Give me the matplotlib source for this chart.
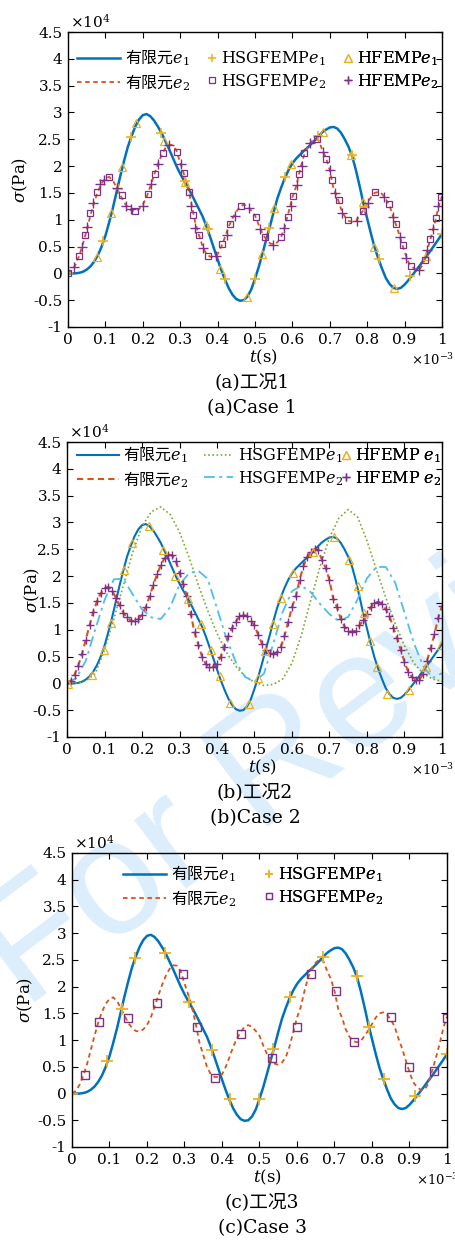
import numpy as np
import matplotlib
matplotlib.use("Agg")
import matplotlib.pyplot as plt
from matplotlib.lines import Line2D

plt.rcParams['font.family'] = ['DejaVu Serif', 'Noto Sans CJK SC']
plt.rcParams['mathtext.fontset'] = 'dejavuserif'

# colours (MATLAB default order)
C_BLUE = '#0072BD'
C_RED = '#D95319'
C_YEL = '#EDB120'
C_PUR = '#7E2F8E'
C_GRN = '#77AC30'
C_CYA = '#4DBEEE'

# ---- data: t in 1e-3 s, sigma in 1e4 Pa ----
t_fem = np.round(np.arange(0, 1.0001, 0.01), 2)
fem_e1 = [0.00, 0.00, 0.00, 0.01, 0.03, 0.07, 0.13, 0.22, 0.34, 0.50,
          0.70, 0.95, 1.22, 1.52, 1.82, 2.10, 2.36, 2.56, 2.74, 2.87,
          2.95, 2.97, 2.93, 2.85, 2.74, 2.62, 2.47, 2.32, 2.16, 2.00,
          1.86, 1.73, 1.61, 1.48, 1.34, 1.20, 1.06, 0.88, 0.68, 0.47,
          0.26, 0.06, -0.12, -0.28, -0.40, -0.48, -0.51, -0.50, -0.43, -0.30,
          -0.10, 0.12, 0.37, 0.63, 0.88, 1.15, 1.40, 1.60, 1.78, 1.93,
          2.05, 2.14, 2.21, 2.28, 2.34, 2.41, 2.48, 2.56, 2.63, 2.68,
          2.72, 2.73, 2.70, 2.62, 2.50, 2.36, 2.18, 1.92, 1.62, 1.30,
          1.02, 0.74, 0.48, 0.27, 0.08, -0.09, -0.20, -0.27, -0.29, -0.27,
          -0.21, -0.13, -0.04, 0.05, 0.14, 0.24, 0.33, 0.43, 0.53, 0.63,
          0.74]
fem_e2 = [0.00, 0.05, 0.16, 0.33, 0.55, 0.81, 1.08, 1.33, 1.53, 1.68,
          1.77, 1.80, 1.73, 1.60, 1.46, 1.32, 1.23, 1.17, 1.16, 1.20,
          1.28, 1.42, 1.62, 1.83, 2.03, 2.20, 2.33, 2.40, 2.39, 2.29,
          2.06, 1.85, 1.62, 1.30, 0.95, 0.72, 0.50, 0.36, 0.31, 0.31,
          0.36, 0.50, 0.68, 0.88, 1.03, 1.15, 1.25, 1.28, 1.25, 1.17,
          1.08, 0.90, 0.74, 0.63, 0.56, 0.54, 0.58, 0.68, 0.88, 1.15,
          1.42, 1.62, 1.92, 2.18, 2.35, 2.45, 2.51, 2.48, 2.30, 2.15,
          1.92, 1.58, 1.42, 1.20, 1.06, 0.98, 0.96, 0.98, 1.08, 1.18,
          1.30, 1.42, 1.50, 1.52, 1.48, 1.38, 1.26, 1.04, 0.85, 0.62,
          0.40, 0.21, 0.12, 0.07, 0.07, 0.18, 0.42, 0.66, 0.92, 1.22,
          1.44]

# HSGFEMP e1 points (cases 1 and 3)
hsg_e1_t = [0.0, 0.094, 0.133, 0.168, 0.249, 0.312, 0.374, 0.421, 0.499,
            0.537, 0.581, 0.669, 0.760, 0.793, 0.831, 0.915, 1.0]
hsg_e1 = [0.0, 0.61, 1.58, 2.54, 2.62, 1.72, 0.82, -0.11, -0.11,
          0.84, 1.80, 2.56, 2.20, 1.24, 0.27, -0.05, 0.74]

# case 1: HSGFEMP e2 squares
c1_hsg_e2_t = [0.0, 0.029, 0.045, 0.060, 0.077, 0.110, 0.144, 0.180, 0.213, 0.232,
               0.253, 0.292, 0.310, 0.324, 0.335, 0.351, 0.375, 0.412, 0.433, 0.462,
               0.503, 0.528, 0.569, 0.588, 0.602, 0.617, 0.632, 0.665, 0.691, 0.706,
               0.725, 0.748, 0.789, 0.821, 0.858, 0.877, 0.895, 0.916, 0.954, 0.969,
               0.983, 0.998]
c1_hsg_e2 = [0.0, 0.32, 0.71, 1.12, 1.51, 1.79, 1.46, 1.16, 1.48, 1.86,
             2.24, 2.27, 1.88, 1.51, 1.09, 0.71, 0.33, 0.54, 0.92, 1.26,
             1.06, 0.68, 0.67, 1.06, 1.45, 1.85, 2.24, 2.51, 2.14, 1.75,
             1.37, 1.00, 1.17, 1.51, 1.29, 0.92, 0.52, 0.14, 0.25, 0.64,
             1.03, 1.42]
# case 1: HFEMP e1 triangles
c1_hf_e1_t = [0.077, 0.116, 0.144, 0.182, 0.257, 0.313, 0.368, 0.407, 0.478, 0.520,
              0.551, 0.597, 0.682, 0.758, 0.789, 0.819, 0.871, 0.956]
c1_hf_e1 = [0.30, 1.12, 1.98, 2.80, 2.46, 1.70, 0.90, 0.09, -0.44, 0.37,
            1.21, 2.03, 2.64, 2.21, 1.33, 0.49, -0.27, 0.32]
# case 1: HFEMP e2 plus
c1_hf_e2_t = [0.017, 0.038, 0.052, 0.067, 0.086, 0.095, 0.130, 0.156, 0.168, 0.200,
              0.222, 0.241, 0.271, 0.302, 0.329, 0.339, 0.360, 0.396, 0.424, 0.447,
              0.485, 0.513, 0.549, 0.578, 0.595, 0.611, 0.625, 0.647, 0.681, 0.700,
              0.714, 0.733, 0.774, 0.802, 0.845, 0.869, 0.887, 0.903, 0.938, 0.961,
              0.976, 0.990]
c1_hf_e2 = [0.12, 0.50, 0.87, 1.31, 1.67, 1.75, 1.60, 1.26, 1.20, 1.26,
            1.66, 2.03, 2.40, 2.04, 1.25, 0.85, 0.47, 0.32, 0.72, 1.07,
            1.21, 0.82, 0.53, 0.85, 1.25, 1.65, 2.01, 2.43, 2.27, 1.92,
            1.50, 1.13, 0.98, 1.31, 1.42, 1.06, 0.67, 0.28, 0.06, 0.44,
            0.82, 1.25]

# case 2: HSGFEMP curves
c2_t = [0.0, 0.025, 0.05, 0.075, 0.1, 0.125, 0.15, 0.175, 0.2, 0.225,
        0.25, 0.275, 0.3, 0.325, 0.35, 0.375, 0.4, 0.425, 0.45, 0.475,
        0.5, 0.525, 0.55, 0.575, 0.6, 0.625, 0.65, 0.675, 0.7, 0.725,
        0.75, 0.775, 0.8, 0.825, 0.85, 0.875, 0.9, 0.925, 0.95, 0.975, 1.0]
c2_hsg_e1 = [0.00, 0.01, 0.04, 0.18, 0.62, 1.20, 1.82, 2.44, 2.93, 3.20,
             3.29, 3.15, 2.82, 2.36, 1.84, 1.36, 0.93, 0.58, 0.32, 0.13,
             0.02, -0.04, -0.02, 0.08, 0.38, 0.90, 1.55, 2.18, 2.72, 3.08,
             3.24, 3.10, 2.66, 2.12, 1.60, 1.12, 0.70, 0.38, 0.18, 0.08,
             0.04]
c2_hsg_e2 = [0.00, 0.10, 0.42, 1.00, 1.55, 1.94, 1.95, 1.66, 1.38, 1.23,
             1.20, 1.42, 1.84, 2.05, 2.10, 1.95, 1.40, 0.84, 0.40, 0.12,
             0.03, 0.18, 0.74, 1.33, 1.72, 1.82, 1.70, 1.48, 1.29, 1.16,
             1.24, 1.57, 1.96, 2.17, 2.17, 1.88, 1.32, 0.75, 0.32, 0.10,
             0.19]
# case 2: HFEMP e1 triangles
c2_hf_e1_t = [0.003, 0.067, 0.098, 0.118, 0.153, 0.173, 0.219, 0.256, 0.288, 0.322,
              0.358, 0.383, 0.407, 0.435, 0.485, 0.510, 0.529, 0.548, 0.571, 0.603,
              0.655, 0.713, 0.752, 0.775, 0.791, 0.808, 0.828, 0.853, 0.911, 0.958,
              0.998]
c2_hf_e1 = [-0.02, 0.15, 0.62, 1.12, 2.12, 2.61, 2.94, 2.49, 2.01, 1.57,
            1.11, 0.62, 0.13, -0.36, -0.39, 0.10, 0.61, 1.10, 1.59, 2.06,
            2.44, 2.72, 2.30, 1.82, 1.31, 0.79, 0.30, -0.19, -0.12, 0.30,
            0.71]

# case 3: HSGFEMP e2 squares
c3_hsg_e2_t = [0.034, 0.072, 0.150, 0.228, 0.296, 0.334, 0.381, 0.450, 0.534,
               0.599, 0.637, 0.703, 0.752, 0.850, 0.899, 0.966, 1.0]
c3_hsg_e2 = [0.35, 1.33, 1.41, 1.69, 2.23, 1.25, 0.29, 1.11, 0.66,
             1.25, 2.24, 1.92, 0.97, 1.44, 0.50, 0.42, 1.41]

xticks = np.round(np.arange(0, 1.01, 0.1), 1)
xticklabels = ['0', '0.1', '0.2', '0.3', '0.4', '0.5', '0.6', '0.7', '0.8', '0.9', '1']
yticks = np.arange(-1, 4.51, 0.5)
yticklabels = ['-1', '-0.5', '0', '0.5', '1', '1.5', '2', '2.5', '3', '3.5', '4', '4.5']

W, H = 456, 1243
fig = plt.figure(figsize=(W / 100, H / 100), dpi=100)

# watermark
fig.text(0.725, 0.415, 'For Review', rotation=37, rotation_mode='anchor',
         ha='center', va='center', fontsize=118, color='#dcedfb',
         family='Liberation Sans', zorder=-10)


def make_axes(left, top, right, bottom):
    ax = fig.add_axes([left / W, 1 - bottom / H, (right - left) / W, (bottom - top) / H])
    ax.set_facecolor('none')
    ax.set_xlim(0, 1)
    ax.set_ylim(-1, 4.5)
    ax.set_xticks(xticks)
    ax.set_xticklabels(xticklabels)
    ax.set_yticks(yticks)
    ax.set_yticklabels(yticklabels)
    ax.tick_params(direction='in', top=True, right=True, length=4, width=0.8,
                   labelsize=11, pad=4)
    for s in ax.spines.values():
        s.set_linewidth(1.0)
    return ax


def decorate(ax, left, top, right, bottom, ylab_x, cap_x, cap1, cap2):
    w = right - left
    h = bottom - top
    ax.text(0.5 + 8 / w, -30 / h, '$t$(s)', transform=ax.transAxes,
            ha='center', va='center', fontsize=12)
    ax.text(1 - 31 / w, -33 / h, r'$\times10^{-3}$', transform=ax.transAxes,
            ha='left', va='center', fontsize=9.5)
    ax.text(2 / w, 1 + 10 / h, r'$\times10^{4}$', transform=ax.transAxes,
            ha='left', va='center', fontsize=11)
    ax.text((ylab_x - left) / w, 0.5, r'$\sigma$(Pa)', transform=ax.transAxes,
            ha='center', va='center', rotation=90, fontsize=12)
    fig.text(cap_x / W, 1 - (bottom + 55) / H, cap1, ha='center', va='center', fontsize=13.5)
    fig.text(cap_x / W, 1 - (bottom + 81) / H, cap2, ha='center', va='center', fontsize=13.5)


def put_legend(ax, handles, labels, x_px, y_px, left, top, right, bottom, hl,
               cjk=False):
    leg = ax.legend(handles, labels, loc='center left',
                    bbox_to_anchor=((x_px - left) / (right - left), (bottom - y_px) / (bottom - top)),
                    frameon=False, handlelength=hl, handletextpad=0.3, labelspacing=0.25,
                    borderpad=0, borderaxespad=0, fontsize=11.5)
    if cjk:
        for tx in leg.get_texts():
            tx.set_family('Noto Sans CJK SC')
    ax.add_artist(leg)
    return leg


lab_fem = ['有限元$e_1$', '有限元$e_2$']

# ---------------- case 1 ----------------
L, T, R, B = 68, 32, 442, 327
ax1 = make_axes(L, T, R, B)
ax1.plot(t_fem, fem_e1, color=C_BLUE, lw=1.8)
ax1.plot(t_fem, fem_e2, color=C_RED, lw=1.3, ls=(0, (2.5, 2)))
ax1.plot(hsg_e1_t, hsg_e1, '+', color=C_YEL, ms=7, mew=1.2)
ax1.plot(c1_hf_e1_t, c1_hf_e1, '^', color=C_YEL, mfc='none', ms=6, mew=0.9)
ax1.plot(c1_hsg_e2_t, c1_hsg_e2, 's', color=C_PUR, mfc='none', ms=5, mew=0.9)
ax1.plot(c1_hf_e2_t, c1_hf_e2, '+', color=C_PUR, ms=6.5, mew=1.0)
decorate(ax1, L, T, R, B, 20, 252, '(a)工况1', '(a)Case 1')

h_fem = [Line2D([], [], color=C_BLUE, lw=1.8),
         Line2D([], [], color=C_RED, lw=1.3, ls=(0, (2.5, 2)))]
put_legend(ax1, h_fem, lab_fem, 77, 70, L, T, R, B, 2.7, cjk=True)
put_legend(ax1, [Line2D([], [], ls='none', marker='+', color=C_YEL, ms=6, mew=1.1),
                 Line2D([], [], ls='none', marker='s', color=C_PUR, mfc='none', ms=4.5, mew=0.9)],
           ['HSGFEMP$e_1$', 'HSGFEMP$e_2$'], 207, 70, L, T, R, B, 0.6)
put_legend(ax1, [Line2D([], [], ls='none', marker='^', color=C_YEL, mfc='none', ms=5.5, mew=0.9),
                 Line2D([], [], ls='none', marker='+', color=C_PUR, ms=6, mew=1.0)],
           ['HFEMP$e_1$', 'HFEMP$e_2$'], 343, 70, L, T, R, B, 0.6)

# ---------------- case 2 ----------------
L, T, R, B = 67, 442, 442, 737
ax2 = make_axes(L, T, R, B)
ax2.plot(t_fem, fem_e1, color=C_BLUE, lw=1.5)
ax2.plot(c2_t, c2_hsg_e1, color=C_GRN, lw=1.2, ls=(0, (1, 1.5)))
ax2.plot(c2_t, c2_hsg_e2, color=C_CYA, lw=1.3, ls=(0, (6, 2.5, 1.5, 2.5)))
ax2.plot(t_fem, fem_e2, color=C_RED, lw=1.5, ls=(0, (3, 2)))
ax2.plot(t_fem, fem_e2, '+', color=C_PUR, ms=6, mew=1.0)
ax2.plot(c2_hf_e1_t, c2_hf_e1, '^', color=C_YEL, mfc='none', ms=6, mew=0.9)
decorate(ax2, L, T, R, B, 32, 255, '(b)工况2', '(b)Case 2')

h_fem2 = [Line2D([], [], color=C_BLUE, lw=1.5),
          Line2D([], [], color=C_RED, lw=1.5, ls=(0, (3, 2)))]
put_legend(ax2, h_fem2, lab_fem, 77, 467, L, T, R, B, 2.6, cjk=True)
put_legend(ax2, [Line2D([], [], color=C_GRN, lw=1.2, ls=(0, (1, 1.5))),
                 Line2D([], [], color=C_CYA, lw=1.3, ls=(0, (6, 2.5, 1.5, 2.5)))],
           ['HSGFEMP$e_1$', 'HSGFEMP$e_2$'], 204, 467, L, T, R, B, 1.8)
put_legend(ax2, [Line2D([], [], ls='none', marker='^', color=C_YEL, mfc='none', ms=5.5, mew=0.9),
                 Line2D([], [], ls='none', marker='+', color=C_PUR, ms=6, mew=1.0)],
           ['HFEMP $e_1$', 'HFEMP $e_2$'], 341, 467, L, T, R, B, 0.6)

# ---------------- case 3 ----------------
L, T, R, B = 72, 853, 447, 1147
ax3 = make_axes(L, T, R, B)
ax3.plot(t_fem, fem_e1, color=C_BLUE, lw=1.8)
ax3.plot(t_fem, fem_e2, color=C_RED, lw=1.3, ls=(0, (2.5, 2)))
ax3.plot(hsg_e1_t, hsg_e1, '+', color=C_YEL, ms=8, mew=1.3)
ax3.plot(c3_hsg_e2_t, c3_hsg_e2, 's', color=C_PUR, mfc='none', ms=5.5, mew=1.0)
decorate(ax3, L, T, R, B, 25, 262, '(c)工况3', '(c)Case 3')

put_legend(ax3, h_fem, lab_fem, 123, 886, L, T, R, B, 2.7, cjk=True)
put_legend(ax3, [Line2D([], [], ls='none', marker='+', color=C_YEL, ms=6, mew=1.1),
                 Line2D([], [], ls='none', marker='s', color=C_PUR, mfc='none', ms=4.5, mew=0.9)],
           ['HSGFEMP$e_1$', 'HSGFEMP$e_2$'], 264, 886, L, T, R, B, 0.6)

fig.savefig('out.png', dpi=100)
